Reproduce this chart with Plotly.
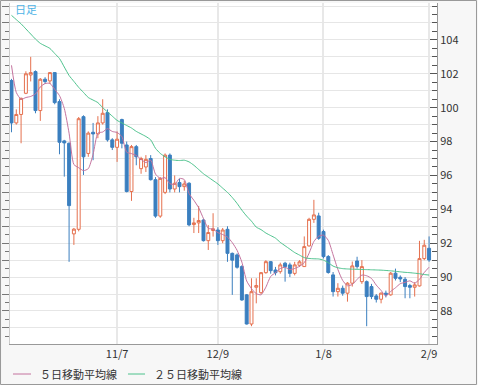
import plotly.graph_objects as go
import pandas as pd

# ---- data ----
opens = [101.6, 99.1, 99.6, 100.85, 101.93, 102.13, 99.83, 101.68, 101.58, 102.07,
         100.36, 98.04, 97.9, 92.55, 92.82, 99.47, 97.3, 98.55, 98.45, 99.1,
         99.71, 98.1, 97.66, 99.3, 97.8, 95.05, 97.7, 96.4, 96.5, 97.0,
         95.75, 93.6, 95.0, 97.2, 95.2, 95.58, 95.34, 95.54, 93.1, 93.2,
         93.37, 92.15, 92.75, 92.78, 92.15, 92.82, 91.4, 91.31, 90.62, 88.95,
         87.23, 89.4, 89.08, 90.26, 90.91, 90.42, 90.32, 90.82, 90.72, 90.22,
         90.7, 90.62, 91.84, 93.41, 93.61, 92.69, 91.21, 90.13, 89.14, 89.34,
         89.05, 89.64, 90.95, 89.73, 89.73, 89.44, 88.89, 88.69, 89.05, 88.95,
         90.23, 89.99, 89.87, 89.5, 89.4, 89.48, 91.09, 91.7]
highs = [101.7, 99.9, 100.6, 102.15, 103.0, 102.2, 101.75, 101.8, 102.1, 102.1,
         100.5, 98.1, 97.95, 92.9, 99.45, 99.55, 98.6, 99.1, 99.5, 100.5,
         99.9, 98.2, 98.6, 99.35, 98.0, 97.8, 97.8, 97.1, 97.2, 97.2,
         95.9, 95.9, 97.3, 97.3, 96.0, 95.8, 95.7, 95.6, 93.5, 94.2,
         93.45, 93.07, 93.77, 92.94, 92.9, 93.0, 91.45, 91.4, 90.7, 89.0,
         89.93, 89.93, 90.3, 91.0, 90.95, 90.6, 90.85, 90.9, 90.85, 90.9,
         91.0, 92.4, 93.5, 94.56, 93.8, 92.8, 91.3, 90.3, 89.64, 89.5,
         89.7, 90.92, 91.2, 91.0, 89.8, 89.6, 89.0, 89.1, 89.2, 90.3,
         90.5, 90.1, 90.0, 89.6, 89.7, 92.14, 92.2, 92.4]
lows = [98.55, 99.0, 97.9, 100.8, 101.55, 99.67, 99.22, 101.4, 101.4, 100.2,
        97.25, 95.93, 90.9, 91.9, 92.7, 96.03, 97.1, 96.9, 98.2, 99.0,
        98.0, 97.5, 96.8, 97.6, 95.0, 94.5, 96.6, 96.1, 96.2, 95.7,
        93.5, 93.5, 94.9, 95.0, 95.0, 95.0, 95.1, 93.0, 92.6, 92.6,
        92.1, 91.6, 92.39, 91.9, 92.0, 90.9, 88.95, 90.5, 88.6, 87.2,
        87.1, 88.45, 89.0, 90.2, 90.2, 90.1, 90.2, 89.73, 90.0, 90.1,
        90.6, 90.6, 91.8, 93.2, 92.2, 91.1, 90.2, 88.85, 88.85, 88.9,
        88.55, 89.44, 90.5, 89.6, 87.1, 88.7, 88.5, 88.45, 88.8, 88.9,
        89.8, 89.7, 88.75, 88.75, 88.85, 89.44, 91.0, 90.9]
closes = [99.1, 99.6, 100.55, 102.0, 102.07, 99.83, 101.68, 101.54, 102.07, 100.3,
          97.96, 97.92, 94.22, 92.83, 99.35, 97.1, 98.5, 98.45, 99.1, 99.67,
          98.1, 97.66, 98.14, 97.9, 95.05, 97.7, 97.1, 97.0, 96.95, 95.75,
          93.6, 95.83, 97.2, 95.2, 95.54, 95.34, 95.5, 93.08, 93.2, 93.34,
          92.15, 92.63, 92.85, 92.15, 92.78, 91.4, 91.0, 90.58, 88.65, 87.23,
          89.14, 89.5, 90.26, 90.91, 90.38, 90.26, 90.72, 90.62, 90.22, 90.72,
          90.9, 91.8, 93.41, 93.67, 92.29, 91.21, 90.27, 89.14, 89.34, 89.05,
          89.64, 90.66, 90.62, 90.62, 88.85, 88.85, 88.69, 89.05, 88.95, 90.23,
          89.93, 89.89, 89.44, 89.4, 89.54, 91.09, 91.88, 91.01]
# first four 5-day averages (their earlier closes are not on the chart)
ma5_head = [102.5, 100.9, 100.5, 100.6]
ma25 = [105.45, 105.2, 104.95, 104.65, 104.35, 104.05, 103.8, 103.65, 103.5, 103.2,
        102.9, 102.4, 101.9, 101.55, 101.2, 100.9, 100.6, 100.45, 100.3, 100.0,
        99.75, 99.5, 99.25, 99.1, 98.95, 98.8, 98.6, 98.45, 98.3, 98.1,
        97.6, 97.3, 97.1, 96.95, 96.9, 96.88, 96.9, 96.8, 96.6, 96.35,
        96.1, 95.9, 95.7, 95.5, 95.25, 95.0, 94.7, 94.35, 93.95, 93.6,
        93.3, 92.95, 92.8, 92.6, 92.45, 92.3, 92.05, 91.85, 91.65, 91.45,
        91.3, 91.15, 91.1, 91.08, 91.07, 91.0, 90.85, 90.65, 90.55, 90.5,
        90.48, 90.47, 90.46, 90.45, 90.44, 90.43, 90.42, 90.41, 90.39, 90.37,
        90.34, 90.31, 90.28, 90.26, 90.23, 90.2, 90.15, 90.12]
tick_idx = [22, 43, 65, 87]
tick_labels = ["11/7", "12/9", "1/8", "2/9"]
price_ticks = [88, 90, 92, 94, 96, 98, 100, 102, 104]
legend_names = ["５日移動平均線", "２５日移動平均線"]
chart_label = "日足"

x = list(range(len(closes)))
ma5 = pd.Series(closes).rolling(5).mean().tolist()
ma5[:4] = ma5_head

UP = "#e5704e"
DOWN = "#3b7fbf"
C5 = "#c4739e"
C25 = "#4cc28c"
FONT = "Noto Sans CJK JP, sans-serif"

fig = go.Figure()
fig.add_trace(go.Candlestick(
    x=x, open=opens, high=highs, low=lows, close=closes,
    increasing=dict(line=dict(color=UP, width=1), fillcolor="white"),
    decreasing=dict(line=dict(color=DOWN, width=1), fillcolor=DOWN),
    whiskerwidth=0, showlegend=False, hoverinfo="skip"))
fig.add_trace(go.Scatter(x=x, y=ma5, mode="lines", name=legend_names[0],
                         line=dict(color=C5, width=1, shape="spline", smoothing=0.6),
                         yaxis="y2", showlegend=False))
fig.add_trace(go.Scatter(x=x, y=ma25, mode="lines", name=legend_names[1],
                         line=dict(color=C25, width=1, shape="spline", smoothing=0.6),
                         yaxis="y2", showlegend=False))

# hand-drawn legend (line sample + text) below the plot
leg_shapes = []
leg_annots = []
for (x0, x1, xt), name, col in zip([(0.007, 0.0492, 0.0656), (0.2763, 0.3162, 0.3326)],
                                   legend_names, [C5, C25]):
    leg_shapes.append(dict(type="line", xref="paper", yref="paper",
                           x0=x0, x1=x1, y0=-0.088, y1=-0.088,
                           line=dict(color=col, width=1)))
    leg_annots.append(dict(text=name, xref="paper", yref="paper", x=xt, y=-0.088,
                           xanchor="left", yanchor="middle", showarrow=False,
                           font=dict(size=11, color="#333")))

yr = [86.05, 106.18]
fig.update_layout(
    width=478, height=385,
    margin=dict(l=10, r=41, t=3, b=41),
    paper_bgcolor="#f7f7f7", plot_bgcolor="white",
    font=dict(family=FONT, size=11, color="#333"),
    showlegend=False, boxgap=0.12,
    xaxis=dict(range=[-0.31, 88.65], tickvals=tick_idx, ticktext=tick_labels,
               showgrid=True, gridcolor="#e8e8e8", gridwidth=2, zeroline=False,
               showline=True, linecolor="#999", ticks="", automargin=False,
               rangeslider=dict(visible=False), fixedrange=True),
    yaxis=dict(range=yr, side="right", tickvals=price_ticks, showgrid=False,
               zeroline=False, showline=True, linecolor="#999", automargin=False,
               ticks="inside", ticklen=7, tickcolor="#555",
               minor=dict(ticks="inside", ticklen=5, dtick=0.5, tick0=0,
                          tickcolor="#555", showgrid=False)),
    yaxis2=dict(range=yr, overlaying="y", side="left", dtick=1, tick0=0,
                showgrid=True, gridcolor="#e6e6e6", zeroline=False, automargin=False,
                showline=True, linecolor="#ccc", showticklabels=False,
                ticks="outside", ticklen=7, tickcolor="#777",
                minor=dict(ticks="outside", ticklen=4, dtick=0.5, tick0=0,
                           tickcolor="#777", showgrid=False)),
    annotations=[dict(text=chart_label, xref="paper", yref="paper",
                      x=0.007, y=0.982, xanchor="left", yanchor="middle",
                      showarrow=False, font=dict(size=11, color="#4db3e6"))] + leg_annots,
    shapes=[dict(type="rect", xref="paper", yref="paper",
                 x0=-0.0222, x1=1.0925, y0=-0.1188, y1=1.0073,
                 line=dict(color="#999", width=1), layer="above")] + leg_shapes,
)
fig.write_html("out.html", config={"displayModeBar": False},
               post_script="document.body.style.margin='0';document.body.style.padding='0';")
